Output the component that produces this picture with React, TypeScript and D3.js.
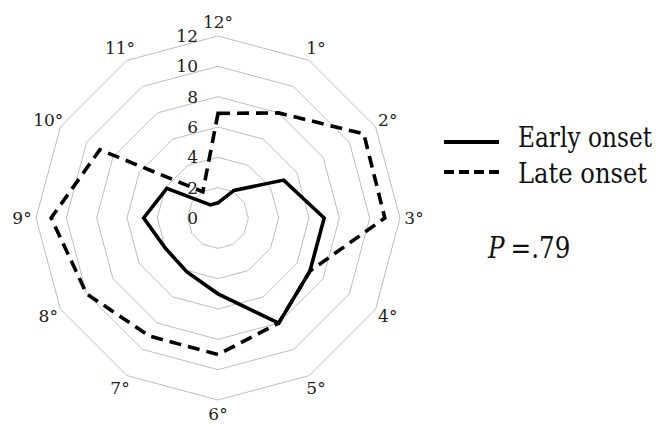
import React from 'react';
import * as d3 from 'd3';

const categories = ['12°', '1°', '2°', '3°', '4°', '5°', '6°', '7°', '8°', '9°', '10°', '11°'];
const earlyOnset = [1, 2.1, 5, 7, 7, 8, 5, 4.1, 4, 4.9, 3.9, 1];
const lateOnset = [6.9, 8, 11.1, 11, 7, 8, 9, 9, 10, 11, 9, 2];
const ringTicks = [0, 2, 4, 6, 8, 10, 12];
const legendLabels = ['Early onset', 'Late onset'];
const pText = '=.79';

const W = 659;
const H = 426;
const cx = 218;
const cy = 218;
const serif = 'DejaVu Serif';
const sx = 0.85; // squeeze DejaVu Serif toward Times widths

const App = () => {
  const rScale = d3.scaleLinear().domain([0, 12]).range([0, 182]);
  const aScale = d3.scaleLinear().domain([0, categories.length]).range([0, 2 * Math.PI]);

  const radial = d3.lineRadial<number>()
    .angle((_, i) => aScale(i))
    .radius(d => rScale(d))
    .curve(d3.curveLinearClosed);

  const rings = ringTicks.filter(t => t > 0).map(t => categories.map(() => t));
  const labelR = 196;

  return (
    <svg width={W} height={H} style={{ position: 'absolute', left: 0, top: 0, background: '#fff' }}>
      <g transform={`translate(${cx},${cy})`}>
        {rings.map((ring, i) => (
          <path key={i} d={radial(ring) || ''} fill="none" stroke="#bdbdbd" strokeWidth={1} />
        ))}
        {ringTicks.map(t => (
          <text key={t} x={-20} y={-rScale(t)} dy="0.36em" textAnchor="end"
            fontFamily={serif} fontSize={17} fill="#222">{t}</text>
        ))}
        {categories.map((c, i) => {
          const a = aScale(i);
          return (
            <text key={c} x={Math.sin(a) * labelR} y={-Math.cos(a) * labelR} dy="0.36em"
              textAnchor="middle" fontFamily={serif} fontSize={17} fill="#222">{c}</text>
          );
        })}
        <path d={radial(lateOnset) || ''} fill="none" stroke="#000" strokeWidth={3.6}
          strokeDasharray="12 7" strokeLinejoin="miter" />
        <path d={radial(earlyOnset) || ''} fill="none" stroke="#000" strokeWidth={3.6}
          strokeLinejoin="miter" />
      </g>
      <g>
        <line x1={444} x2={499} y1={142} y2={142} stroke="#000" strokeWidth={4} />
        <line x1={444} x2={499} y1={172} y2={172} stroke="#000" strokeWidth={4} strokeDasharray="10 5" />
        <g transform={`translate(518,147) scale(${sx},1)`}>
          <text fontFamily={serif} fontSize={28} fill="#111"
            textLength={134 / sx} lengthAdjust="spacingAndGlyphs">{legendLabels[0]}</text>
        </g>
        <g transform={`translate(518,183) scale(${sx},1)`}>
          <text fontFamily={serif} fontSize={28} fill="#111"
            textLength={129 / sx} lengthAdjust="spacingAndGlyphs">{legendLabels[1]}</text>
        </g>
        <g transform={`translate(488,258) scale(${sx},1)`}>
          <text fontFamily={serif} fontSize={29} fill="#111">
            <tspan fontStyle="italic">P</tspan>
            <tspan dx={7}>{pText}</tspan>
          </text>
        </g>
      </g>
    </svg>
  );
};

export default App;
